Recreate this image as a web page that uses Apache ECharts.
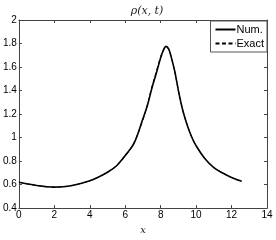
<!DOCTYPE html>
<html><head><meta charset="utf-8">
<script src="https://cdn.jsdelivr.net/npm/echarts@6/dist/echarts.min.js"></script>
<style>html,body{margin:0;padding:0;background:#fff}#c{width:276px;height:240px}</style>
</head><body><div id="c"></div>
<script>
var xs = [0,0.5,1,1.5,2,2.5,3,3.5,4,4.5,5,5.5,6,6.5,7,7.25,7.5,7.75,8,8.15,8.3,8.45,8.6,8.8,9,9.25,9.5,9.75,10,10.5,11,11.5,12,12.57];
var exactVals = [0.620,0.605,0.592,0.583,0.578,0.582,0.592,0.610,0.632,0.665,0.705,0.760,0.840,0.960,1.150,1.280,1.430,1.560,1.690,1.745,1.772,1.750,1.680,1.560,1.400,1.230,1.105,1.005,0.930,0.820,0.745,0.698,0.660,0.628];
var numVals = [0.620,0.605,0.592,0.583,0.578,0.582,0.592,0.610,0.632,0.665,0.705,0.758,0.848,0.952,1.162,1.272,1.418,1.545,1.678,1.742,1.776,1.755,1.682,1.560,1.400,1.230,1.105,1.005,0.930,0.820,0.745,0.698,0.660,0.628];
var xTicks = [0,2,4,6,8,10,12,14];
var yTicks = ['0.4','0.6','0.8','1','1.2','1.4','1.6','1.8','2'];
var titleText = 'ρ(x, t)';
var xName = 'x';
var seriesNames = ['Num.','Exact'];

function pairs(a,b){return a.map(function(v,i){return [v,b[i]];});}
var chart = echarts.init(document.getElementById('c'));
var axisCol = '#444';
var lbl = {color:'#000', fontSize:10, fontFamily:'Liberation Sans, Arial, sans-serif'};
chart.setOption({
  animation:false,
  title:{text:titleText, left:142, top:1, textAlign:'center',
    textStyle:{fontSize:11, fontStyle:'italic', fontWeight:'normal', fontFamily:'DejaVu Serif, serif', color:'#222'}},
  grid:{left:17, right:9, top:20, bottom:23},
  legend:{right:9, top:21, orient:'vertical', itemWidth:20, itemHeight:8, itemGap:3,
    padding:[3,3,3,4], borderColor:'#555', borderWidth:1, backgroundColor:'#fff',
    itemStyle:{opacity:0},
    textStyle:{fontSize:11, color:'#000', fontFamily:'Liberation Sans, Arial, sans-serif', padding:[0,0,0,-4]},
    data:seriesNames},
  xAxis:[{type:'value', min:xTicks[0], max:xTicks[xTicks.length-1], interval:2,
    name:xName, nameLocation:'middle', nameGap:13,
    nameTextStyle:{fontSize:10, fontStyle:'italic', fontFamily:'DejaVu Serif, serif', color:'#222'},
    axisLine:{lineStyle:{color:axisCol, width:1}}, axisTick:{inside:true, length:3, lineStyle:{color:axisCol}},
    axisLabel:Object.assign({margin:2, formatter:function(v){return String(v);}}, lbl), splitLine:{show:false}},
   {type:'value', position:'top', min:0, max:14, interval:2,
    axisLine:{onZero:false, lineStyle:{color:axisCol, width:1}}, axisTick:{inside:true, length:3, lineStyle:{color:axisCol}},
    axisLabel:{show:false}, splitLine:{show:false}}],
  yAxis:[{type:'value', min:0.4, max:2, interval:0.2,
    axisLine:{show:true, lineStyle:{color:axisCol, width:1}}, axisTick:{show:true, inside:true, length:3, lineStyle:{color:axisCol}},
    axisLabel:Object.assign({margin:2, formatter:function(v){var i=Math.round((v-0.4)/0.2);return yTicks[i];}}, lbl), splitLine:{show:false}},
   {type:'value', position:'right', min:0.4, max:2, interval:0.2,
    axisLine:{show:true, onZero:false, lineStyle:{color:axisCol, width:1}}, axisTick:{show:true, inside:true, length:3, lineStyle:{color:axisCol}},
    axisLabel:{show:false}, splitLine:{show:false}}],
  series:[
    {name:seriesNames[0], type:'line', data:pairs(xs,numVals), smooth:0.35, symbol:'none',
     lineStyle:{color:'#000', width:1.6}, itemStyle:{color:'#000'}, z:3},
    {name:seriesNames[1], type:'line', data:pairs(xs,exactVals), smooth:0.35, symbol:'none',
     lineStyle:{color:'#000', width:1, type:[4,2.5]}, itemStyle:{color:'#000'}, z:4}
  ]
});
</script></body></html>
